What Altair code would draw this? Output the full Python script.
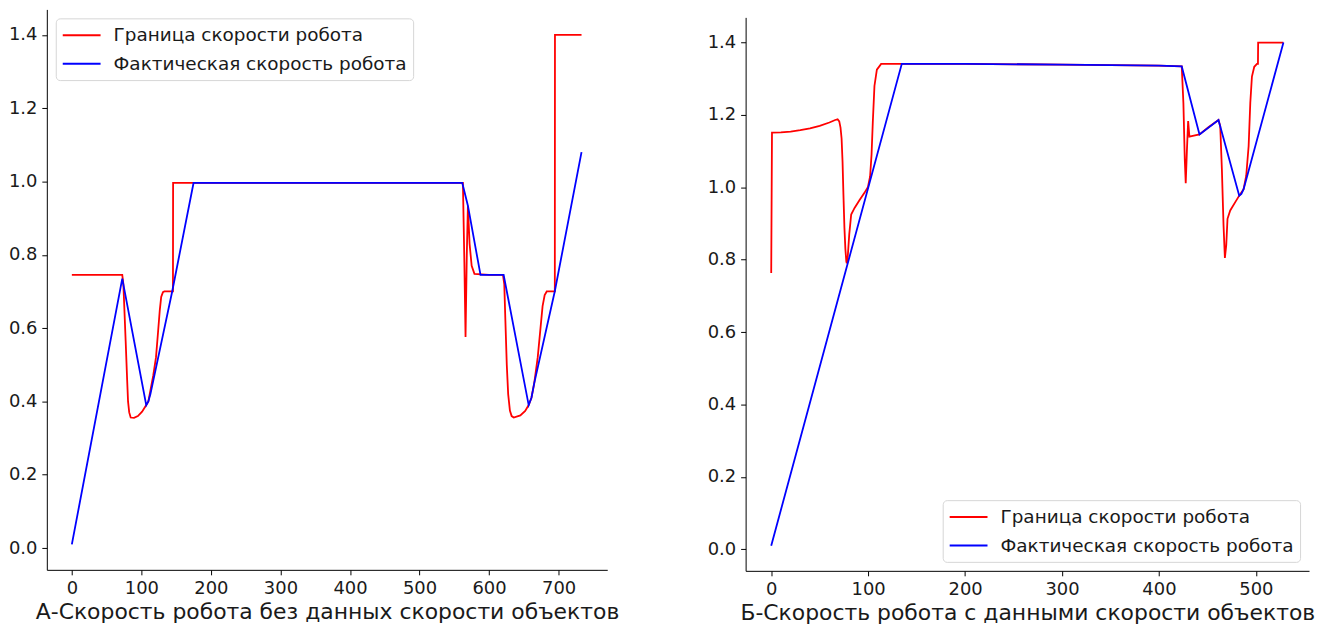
import altair as alt
import pandas as pd

RED_LABEL = "Граница скорости робота"
BLUE_LABEL = "Фактическая скорость робота"

TITLE_A = "А-Скорость робота без данных скорости объектов"
TITLE_B = "Б-Скорость робота с данными скорости объектов"

Y_TICKS = [0.0, 0.2, 0.4, 0.6, 0.8, 1.0, 1.2, 1.4]
A_X_TICKS = [0, 100, 200, 300, 400, 500, 600, 700]
B_X_TICKS = [0, 100, 200, 300, 400, 500]

# Panel A: speed limit (red)
a_red_x = [0, 72.5, 74.1, 77.4, 79.5, 80.8, 82.5, 84.6, 89.4, 95, 101, 107, 110, 113,
           117, 121, 124, 126.5, 128.5, 131, 133, 145.4, 145.6, 150, 300, 450, 562.4,
           564.5, 566.2, 568, 569.6, 572, 575, 579, 600, 620, 621.9, 623.5, 625.5,
           627.5, 630, 632.5, 635.5, 645, 652, 657, 661, 665, 670, 674, 677, 680, 683,
           694.6, 694.8, 733]
a_red_y = [0.745, 0.745, 0.72, 0.564, 0.46, 0.40, 0.37, 0.356, 0.355, 0.36, 0.372, 0.39,
           0.40, 0.43, 0.47, 0.52, 0.59, 0.65, 0.685, 0.698, 0.70, 0.70, 0.996, 0.996,
           0.996, 0.996, 0.996, 0.78, 0.576, 0.80, 0.934, 0.83, 0.77, 0.748, 0.745, 0.745,
           0.72, 0.62, 0.50, 0.42, 0.375, 0.36, 0.356, 0.362, 0.374, 0.39, 0.41, 0.45,
           0.52, 0.60, 0.66, 0.69, 0.70, 0.70, 1.40, 1.40]

# Panel A: actual speed (blue)
a_blue_x = [0, 72.5, 107, 110, 113, 144.3, 175, 561.5, 569.6, 587.7, 621, 657, 661, 665,
            694.5, 733]
a_blue_y = [0.01, 0.735, 0.39, 0.40, 0.42, 0.70, 0.996, 0.996, 0.934, 0.745, 0.745, 0.39,
            0.41, 0.45, 0.70, 1.08]

# Panel B: speed limit (red)
b_red_x = [0, 0.8, 10, 20, 30, 40, 50, 60, 66, 68.5, 70.2, 71.5, 72.6, 73.6, 74.5, 75.5,
           76.5, 77.5, 78, 79, 80.5, 82.5, 86, 91, 96, 99.7, 102, 103.5, 104.8, 106.5,
           109, 113.4, 134.7, 200, 300, 400, 423.5, 425.2, 426.6, 427.6, 428.8, 430.1,
           431.4, 436, 441.8, 451, 461.4, 463.2, 464.9, 466.6, 468, 469.4, 470.7, 473.5,
           478.7, 482.8, 487.3, 490, 492.5, 494.2, 495.9, 498.3, 501.1, 502.1, 502.3, 528.4]
b_red_y = [0.763, 1.151, 1.152, 1.154, 1.158, 1.163, 1.170, 1.179, 1.186, 1.188, 1.182,
           1.165, 1.135, 1.07, 0.98, 0.89, 0.83, 0.795, 0.79, 0.81, 0.87, 0.925, 0.943,
           0.964, 0.984, 1.0, 1.03, 1.09, 1.18, 1.28, 1.325, 1.341, 1.341, 1.341, 1.339,
           1.336, 1.334, 1.233, 1.078, 1.011, 1.10, 1.183, 1.14, 1.143, 1.146, 1.166,
           1.186, 1.169, 1.05, 0.895, 0.805, 0.84, 0.913, 0.936, 0.959, 0.977, 0.995,
           1.032, 1.114, 1.233, 1.306, 1.333, 1.341, 1.341, 1.40, 1.40]

# Panel B: actual speed (blue)
b_blue_x = [0, 134.7, 200, 300, 400, 423.5, 441.8, 461.4, 482.8, 485, 487.3, 528.4]
b_blue_y = [0.01, 1.341, 1.341, 1.339, 1.336, 1.334, 1.146, 1.186, 0.977, 0.982, 0.995, 1.40]

FONT = "DejaVu Sans"
Y_DOMAIN = [-0.0595, 1.4695]


def make_panel(red_x, red_y, blue_x, blue_y, x_dom, x_ticks, title, orient, w, h):
    red_df = pd.DataFrame({"x": red_x, "y": red_y, "s": RED_LABEL})
    blue_df = pd.DataFrame({"x": blue_x, "y": blue_y, "s": BLUE_LABEL})
    xenc = alt.X("x:Q", scale=alt.Scale(domain=x_dom, nice=False, zero=False),
                 axis=alt.Axis(values=x_ticks, format="d", title=title))
    yenc = alt.Y("y:Q", scale=alt.Scale(domain=Y_DOMAIN, nice=False, zero=False),
                 axis=alt.Axis(values=Y_TICKS, format=".1f", title=None))
    cenc = alt.Color(
        "s:N",
        scale=alt.Scale(domain=[RED_LABEL, BLUE_LABEL], range=["#ff0000", "#0000ff"]),
        legend=alt.Legend(
            title=None, orient=orient, offset=9, padding=6,
            strokeColor="#d6d6d6", fillColor="white", cornerRadius=4,
            labelFont=FONT, labelFontSize=18.5, labelColor="#1a1a1a",
            symbolType="M-1.9,0L1.9,0", symbolSize=400, symbolStrokeWidth=2,
            symbolOffset=9, labelOffset=21, rowPadding=7.6, labelLimit=600,
        ),
    )

    def line(df):
        return alt.Chart(df).mark_line(strokeWidth=1.8).encode(x=xenc, y=yenc, color=cenc)

    return alt.layer(line(red_df), line(blue_df)).properties(width=w, height=h)


left = make_panel(a_red_x, a_red_y, a_blue_x, a_blue_y, [-36, 770], A_X_TICKS, TITLE_A,
                  "top-left", 563, 563)
right = make_panel(b_red_x, b_red_y, b_blue_x, b_blue_y, [-26.4, 554.8], B_X_TICKS, TITLE_B,
                   "bottom-right", 566, 556)

# invisible spacer that pushes the right panel down a little
spacer = (
    alt.Chart(pd.DataFrame({"v": [0]}))
    .mark_point(size=0, strokeWidth=0, opacity=0)
    .encode(x=alt.value(0), y=alt.value(0))
    .properties(width=1, height=1)
)
right_col = alt.vconcat(spacer, right, spacing=7).resolve_scale(color="independent")

chart = (
    alt.hconcat(left, right_col, spacing=88)
    .resolve_scale(color="independent")
    .properties(padding=0)
    .configure_view(stroke=None)
    .configure_axis(
        domainColor="black", domainWidth=1, tickColor="black", tickSize=5, tickWidth=1,
        labelFont=FONT, labelFontSize=18, labelColor="#1a1a1a", labelPadding=5,
        titleFont=FONT, titleFontSize=22, titleFontWeight="normal", titleColor="#1a1a1a",
        titlePadding=4, grid=False, labelOverlap=False, labelFlush=False,
    )
    .configure_axisY(labelPadding=5)
)

chart.save("out.html", embed_options={"renderer": "svg", "actions": False})
